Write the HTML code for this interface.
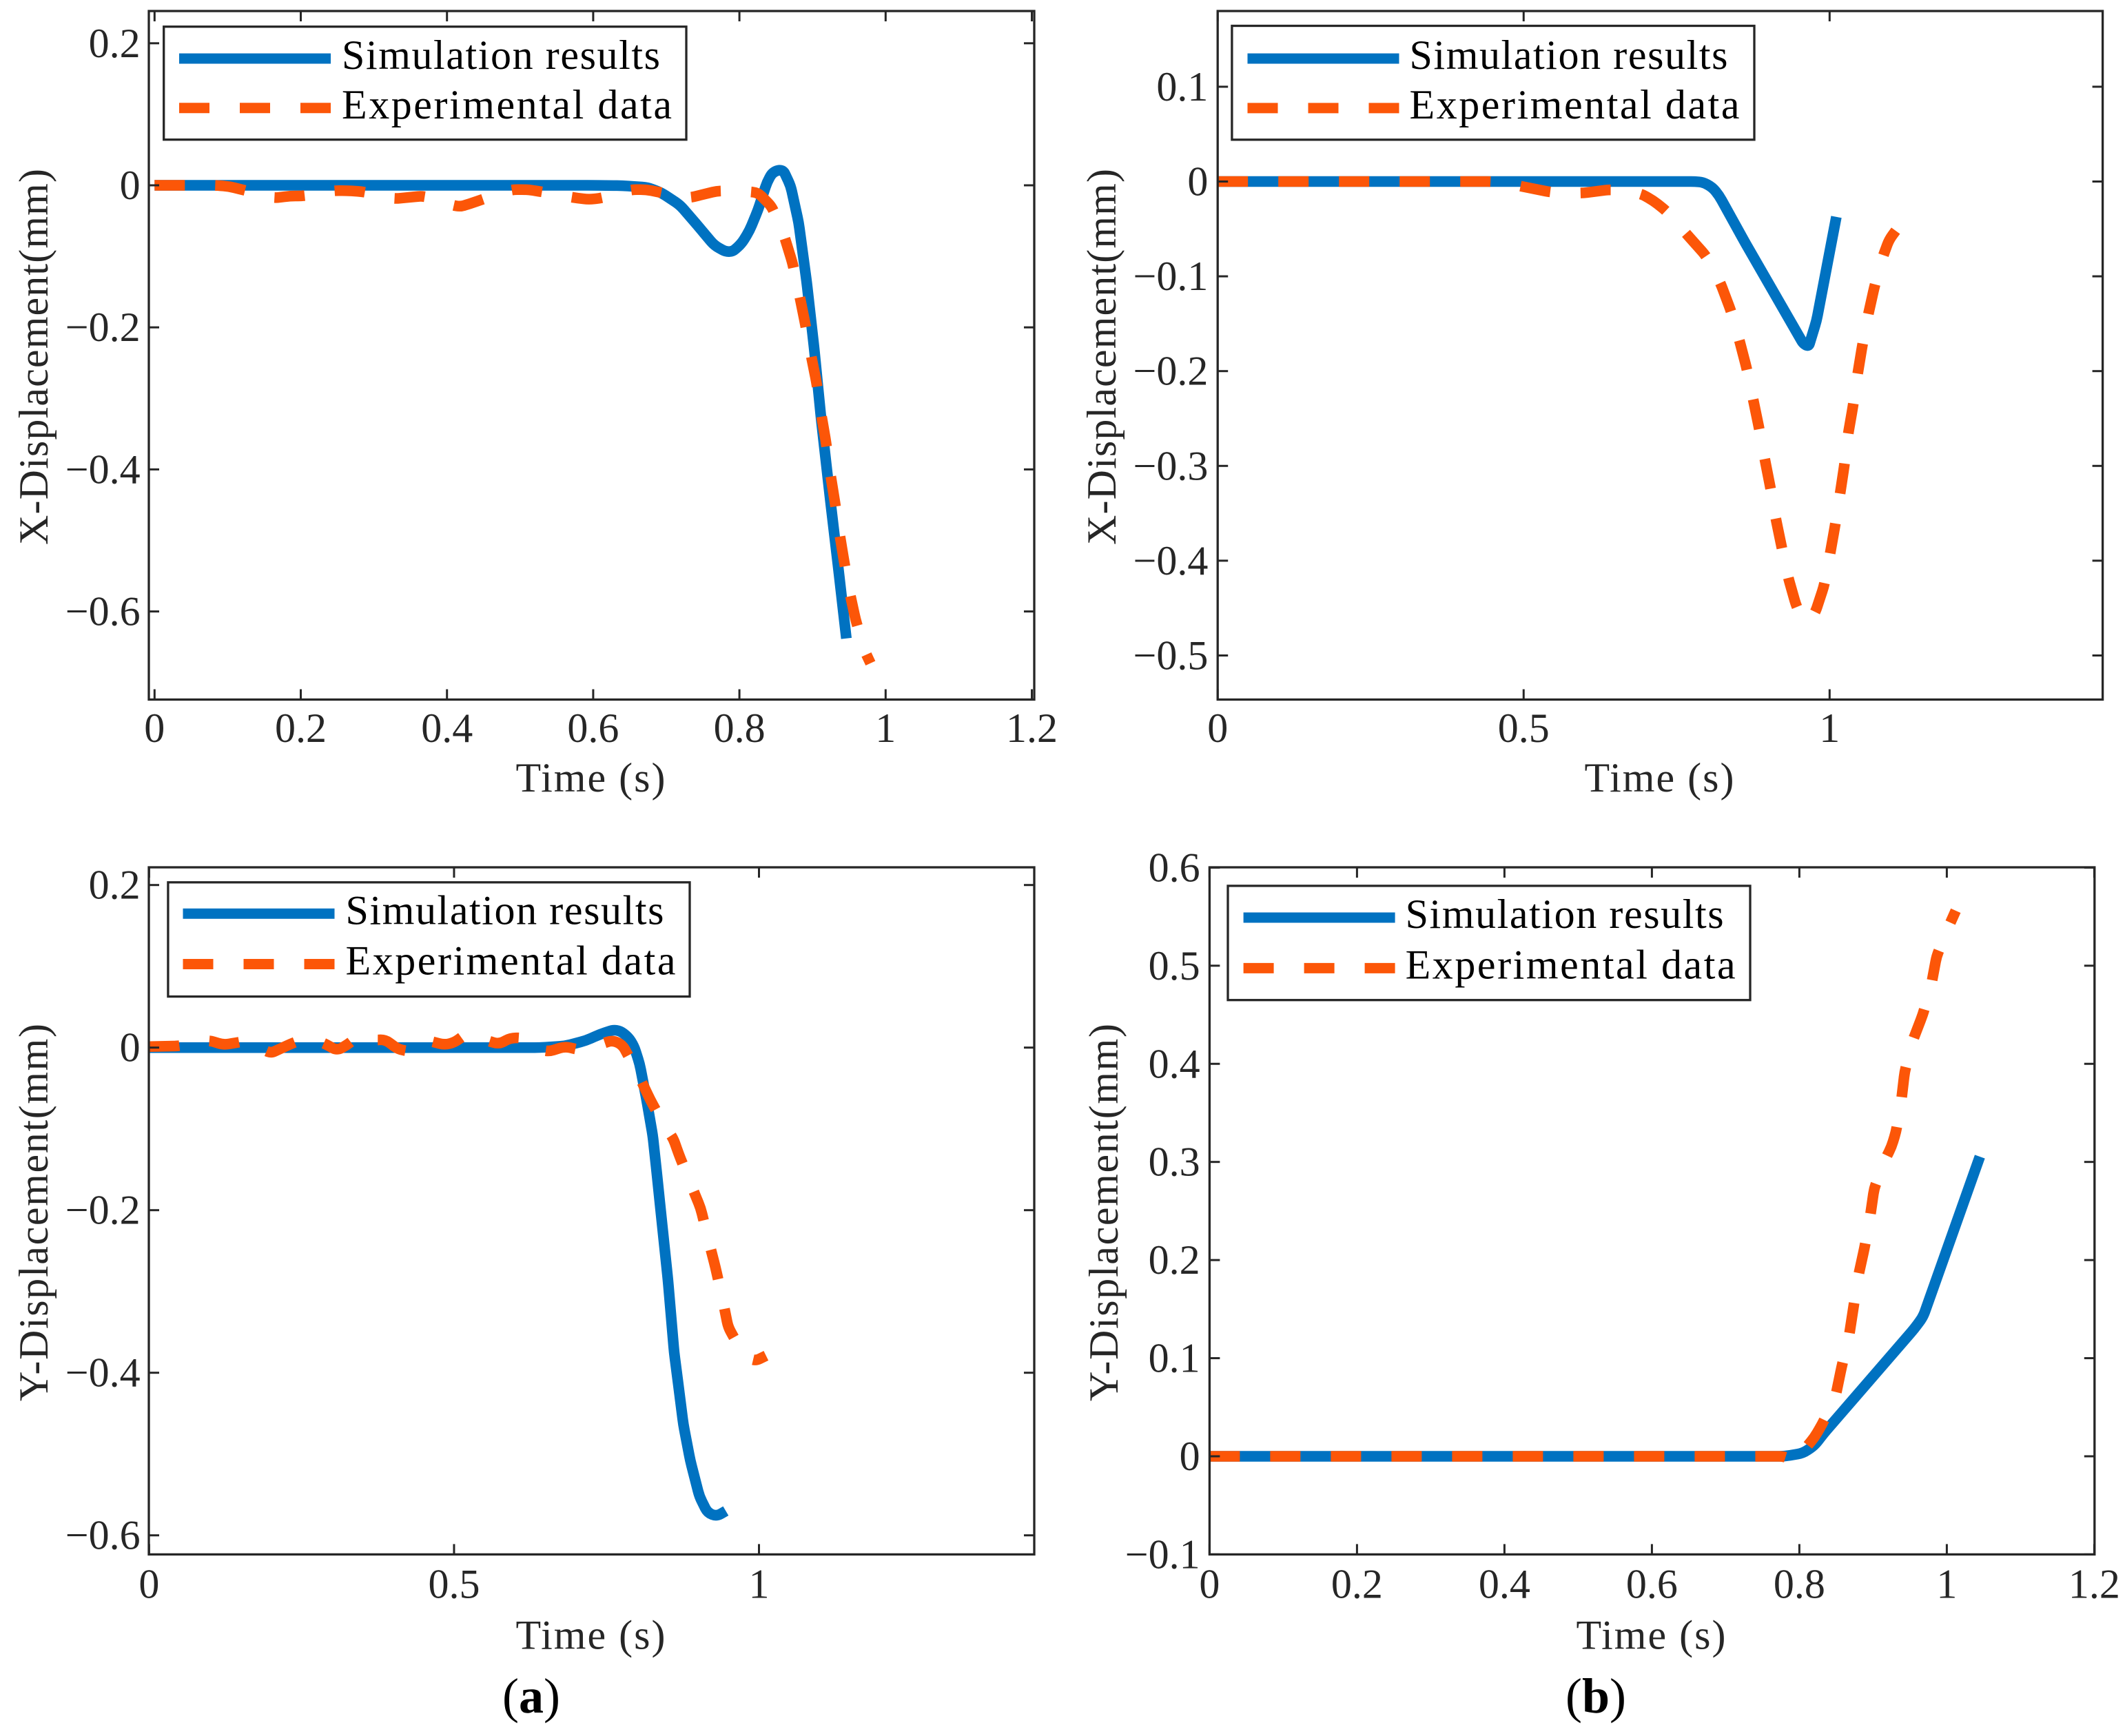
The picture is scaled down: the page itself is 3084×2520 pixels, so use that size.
<!DOCTYPE html>
<html lang="en">
<head>
<meta charset="utf-8">
<title>Simulation vs experimental displacement</title>
<style>
html,body{margin:0;padding:0;background:#fff;}
svg{display:block;}
text{font-family:"Liberation Serif",serif;fill:#262626;}
</style>
</head>
<body>
<svg id="figure" xmlns="http://www.w3.org/2000/svg" width="3084" height="2520" viewBox="0 0 3084 2520">
  <rect x="0" y="0" width="3084" height="2520" fill="#ffffff"/>
  <text x="771" y="2486" font-size="72" text-anchor="middle" style="fill:#000">(<tspan font-weight="bold">a</tspan>)</text>
  <text x="2316" y="2486" font-size="72" text-anchor="middle" style="fill:#000">(<tspan font-weight="bold">b</tspan>)</text>
</svg>
<script>
// Panel A (top left): X-displacement
const aXTicks = [0, 0.2, 0.4, 0.6, 0.8, 1, 1.2];
const aXTickLabels = ['0', '0.2', '0.4', '0.6', '0.8', '1', '1.2'];
const aYTicks = [0.2, 0, -0.2, -0.4, -0.6];
const aYTickLabels = ['0.2', '0', '\u22120.2', '\u22120.4', '\u22120.6'];
const aSimTime = [0, 0.3, 0.6, 0.64, 0.6746, 0.693, 0.7186, 0.7435, 0.7656, 0.781, 0.7906, 0.803, 0.814, 0.8253, 0.8378, 0.8457, 0.8593, 0.87, 0.881, 0.892, 0.9023, 0.9118, 0.9243, 0.9356, 0.9463];
const aSimDisp = [0, 0, 0, -0.0005, -0.003, -0.0103, -0.0277, -0.0574, -0.0845, -0.0934, -0.0934, -0.082, -0.0633, -0.035, 0.0045, 0.019, 0.0227, -0.0006, -0.0523, -0.136, -0.23, -0.329, -0.443, -0.5418, -0.638];
const aExpTime = [0, 0.0827, 0.1015, 0.1232, 0.1637, 0.1854, 0.2033, 0.2448, 0.2637, 0.2853, 0.3277, 0.3475, 0.3677, 0.4073, 0.4182, 0.4314, 0.4478, 0.4884, 0.51, 0.529, 0.5712, 0.5939, 0.6112, 0.6523, 0.6724, 0.694, 0.7311, 0.7704, 0.8118, 0.8253, 0.8442, 0.8615, 0.8725, 0.8819, 0.8897, 0.8977, 0.9054, 0.9118, 0.918, 0.9243, 0.9305, 0.9369, 0.9432, 0.951, 0.9588, 0.9714, 0.9793];
const aExpDisp = [0, 0, -0.0015, -0.007, -0.018, -0.015, -0.015, -0.0075, -0.0075, -0.009, -0.019, -0.017, -0.015, -0.028, -0.03, -0.026, -0.02, -0.006, -0.006, -0.009, -0.017, -0.02, -0.018, -0.006, -0.006, -0.0105, -0.0177, -0.0078, -0.0089, -0.0103, -0.03, -0.0722, -0.109, -0.1537, -0.1933, -0.2378, -0.2773, -0.3218, -0.3589, -0.4056, -0.4453, -0.4899, -0.5295, -0.5739, -0.611, -0.6556, -0.6729];

// Panel B (top right): X-displacement
const bXTicks = [0, 0.5, 1];
const bXTickLabels = ['0', '0.5', '1'];
const bYTicks = [0.1, 0, -0.1, -0.2, -0.3, -0.4, -0.5];
const bYTickLabels = ['0.1', '0', '\u22120.1', '\u22120.2', '\u22120.3', '\u22120.4', '\u22120.5'];
const bSimTime = [0, 0.4, 0.78, 0.7933, 0.8083, 0.8193, 0.8624, 0.957, 0.9658, 0.9786, 1.011];
const bSimDisp = [0, 0, 0, -0.0008, -0.006, -0.0147, -0.065, -0.1711, -0.174, -0.1469, -0.0373];
const bExpTime = [0, 0.4464, 0.46, 0.48, 0.496, 0.5447, 0.5951, 0.6426, 0.6921, 0.7115, 0.7329, 0.7653, 0.7976, 0.8214, 0.8386, 0.8526, 0.8645, 0.8752, 0.8847, 0.8938, 0.9033, 0.912, 0.9218, 0.9325, 0.9455, 0.955, 0.965, 0.9766, 0.9908, 1.0002, 1.0088, 1.0167, 1.024, 1.0302, 1.0381, 1.0455, 1.0533, 1.0627, 1.0735, 1.0873, 1.0972, 1.108];
const bExpDisp = [0, 0, -0.001, -0.003, -0.005, -0.0113, -0.0123, -0.0084, -0.0129, -0.02, -0.0309, -0.0547, -0.0781, -0.1068, -0.1363, -0.1676, -0.1972, -0.2303, -0.26, -0.2919, -0.3231, -0.3554, -0.386, -0.4181, -0.4476, -0.46, -0.465, -0.4546, -0.4267, -0.3948, -0.3634, -0.331, -0.2998, -0.2668, -0.2373, -0.2042, -0.1736, -0.1416, -0.1103, -0.0788, -0.0614, -0.0519];

// Panel C (bottom left): Y-displacement
const cXTicks = [0, 0.5, 1];
const cXTickLabels = ['0', '0.5', '1'];
const cYTicks = [0.2, 0, -0.2, -0.4, -0.6];
const cYTickLabels = ['0.2', '0', '\u22120.2', '\u22120.4', '\u22120.6'];
const cSimTime = [0, 0.3, 0.641, 0.682, 0.716, 0.7385, 0.7611, 0.7724, 0.7856, 0.795, 0.8044, 0.8158, 0.8259, 0.8323, 0.8384, 0.8508, 0.8609, 0.8685, 0.876, 0.8873, 0.9024, 0.9156, 0.9306, 0.9456];
const cSimDisp = [0, 0, 0, 0.002, 0.0086, 0.0161, 0.0218, 0.0205, 0.013, 0.0019, -0.0203, -0.0647, -0.1087, -0.1532, -0.1975, -0.2862, -0.3748, -0.4191, -0.4635, -0.5079, -0.5522, -0.5721, -0.5766, -0.57];
const cExpTime = [0, 0.049, 0.0977, 0.122, 0.1453, 0.165, 0.1896, 0.2005, 0.2329, 0.2586, 0.2843, 0.3086, 0.3275, 0.348, 0.3679, 0.387, 0.4086, 0.43, 0.4546, 0.4843, 0.5004, 0.522, 0.5465, 0.5736, 0.5924, 0.613, 0.6357, 0.6546, 0.6816, 0.7067, 0.7318, 0.76, 0.7762, 0.8018, 0.8214, 0.8459, 0.8591, 0.8685, 0.8873, 0.9043, 0.9174, 0.9287, 0.94, 0.9495, 0.9739, 0.9928, 1.0116];
const cExpDisp = [0.0012, 0.002, 0.0091, 0.0034, 0.0063, 0.009, -0.0036, -0.0065, 0.0048, 0.012, 0.0063, -0.0036, 0.0048, 0.0175, 0.0091, 0.0099, -0.0022, -0.005, 0.0091, 0.0034, 0.0063, 0.018, 0.0105, 0.0042, 0.0119, 0.012, -0.0008, -0.0051, 0.0014, -0.003, 0.002, 0.0091, 0.0034, -0.0326, -0.0637, -0.0977, -0.1111, -0.1311, -0.1664, -0.1975, -0.2375, -0.2706, -0.3084, -0.3438, -0.377, -0.3859, -0.379];

// Panel D (bottom right): Y-displacement
const dXTicks = [0, 0.2, 0.4, 0.6, 0.8, 1, 1.2];
const dXTickLabels = ['0', '0.2', '0.4', '0.6', '0.8', '1', '1.2'];
const dYTicks = [0.6, 0.5, 0.4, 0.3, 0.2, 0.1, 0, -0.1];
const dYTickLabels = ['0.6', '0.5', '0.4', '0.3', '0.2', '0.1', '0', '\u22120.1'];
const dSimTime = [0, 0.4, 0.78, 0.805, 0.8205, 0.833, 0.956, 0.9678, 1.0448];
const dSimDisp = [0, 0, 0, 0.0032, 0.0112, 0.0233, 0.1301, 0.1422, 0.3054];
const dExpTime = [0, 0.4, 0.78, 0.795, 0.8096, 0.8205, 0.8314, 0.8492, 0.8573, 0.8673, 0.8735, 0.8798, 0.8884, 0.8959, 0.9015, 0.9165, 0.9249, 0.9311, 0.9382, 0.9429, 0.9532, 0.9676, 0.9788, 0.9862, 1.0021, 1.0121];
const dExpDisp = [0, 0, 0, -0.006, 0.0095, 0.0193, 0.0334, 0.0616, 0.091, 0.1221, 0.1524, 0.1832, 0.2127, 0.2438, 0.2731, 0.3027, 0.3155, 0.3308, 0.3619, 0.3921, 0.4224, 0.4506, 0.48, 0.5097, 0.5392, 0.5561];

const legendLabels = ['Simulation results', 'Experimental data'];

const NS = 'http://www.w3.org/2000/svg';
const INK = '#262626';
const BLUE = '#0072C1';
const ORANGE = '#FC5608';
const figure = document.getElementById('figure');

function make(parent, tag, attrs, text) {
  const el = document.createElementNS(NS, tag);
  for (const k in attrs) el.setAttribute(k, attrs[k]);
  if (text !== undefined) el.textContent = text;
  parent.appendChild(el);
  return el;
}

function linearScale(d0, d1, r0, r1) {
  return function (v) { return r0 + (v - d0) * (r1 - r0) / (d1 - d0); };
}

// Polyline through the data with each interior vertex gently rounded.
function seriesPath(times, disps, sx, sy) {
  const pts = times.map(function (t, i) { return [sx(t), sy(disps[i])]; });
  let d = 'M' + pts[0][0].toFixed(2) + ' ' + pts[0][1].toFixed(2);
  for (let i = 1; i < pts.length - 1; i++) {
    const p = pts[i - 1], c = pts[i], n = pts[i + 1];
    const l1 = Math.hypot(c[0] - p[0], c[1] - p[1]);
    const l2 = Math.hypot(n[0] - c[0], n[1] - c[1]);
    const r = Math.min(8, l1 / 2, l2 / 2);
    const a = [c[0] + (p[0] - c[0]) * r / l1, c[1] + (p[1] - c[1]) * r / l1];
    const b = [c[0] + (n[0] - c[0]) * r / l2, c[1] + (n[1] - c[1]) * r / l2];
    d += ' L' + a[0].toFixed(2) + ' ' + a[1].toFixed(2);
    d += ' Q' + c[0].toFixed(2) + ' ' + c[1].toFixed(2) + ' ' + b[0].toFixed(2) + ' ' + b[1].toFixed(2);
  }
  const last = pts[pts.length - 1];
  d += ' L' + last[0].toFixed(2) + ' ' + last[1].toFixed(2);
  return d;
}

function drawPanel(p) {
  const g = make(figure, 'g', {});
  
  

  const sx = linearScale(p.xd[0], p.xd[1], p.xr[0], p.xr[1]);
  const sy = linearScale(p.yd[0], p.yd[1], p.yr[0], p.yr[1]);

  const sim = make(g, 'path', { d: seriesPath(p.simT, p.simV, sx, sy), fill: 'none', stroke: BLUE, 'stroke-width': 15.5, 'stroke-linejoin': 'round' });
  
  

  const exp = make(g, 'path', { d: seriesPath(p.expT, p.expV, sx, sy), fill: 'none', stroke: ORANGE, 'stroke-width': 15.5, 'stroke-dasharray': '44 44', 'stroke-linejoin': 'round' });
  
  

  const frame = make(g, 'rect', { x: p.left, y: p.top, width: p.right - p.left, height: p.bottom - p.top, fill: 'none', stroke: INK, 'stroke-width': 3.3 });
  
  

  p.xTicks.forEach(function (t, i) {
    const x = sx(t);
    const tb = make(g, 'line', { x1: x, x2: x, y1: p.bottom, y2: p.bottom - 15, stroke: INK, 'stroke-width': 3 });
    
    
    const tt = make(g, 'line', { x1: x, x2: x, y1: p.top, y2: p.top + 15, stroke: INK, 'stroke-width': 3 });
    
    
    const lab = make(g, 'text', { x: x, y: p.xLabelBase, 'font-size': 60, 'text-anchor': 'middle' }, p.xTickLabels[i]);
    
    
  });

  p.yTicks.forEach(function (v, i) {
    const y = sy(v);
    const tl = make(g, 'line', { x1: p.left, x2: p.left + 15, y1: y, y2: y, stroke: INK, 'stroke-width': 3 });
    
    
    const tr = make(g, 'line', { x1: p.right, x2: p.right - 15, y1: y, y2: y, stroke: INK, 'stroke-width': 3 });
    
    
    const lab = make(g, 'text', { x: p.yLabelRight, y: y + 20, 'font-size': 60, 'text-anchor': 'end' }, p.yTickLabels[i]);
    
    
  });

  const xt = make(g, 'text', { x: p.xTitleX, y: p.xTitleY, 'font-size': 60, 'text-anchor': 'middle', textLength: 217 }, 'Time (s)');
  
  

  const yt = make(g, 'text', { x: 0, y: 0, 'font-size': 60, 'text-anchor': 'middle', textLength: p.yTitleLen, transform: 'translate(' + p.yTitleX + ' ' + p.yTitleY + ') rotate(-90)' }, p.yTitle);
  
  

  const leg = make(g, 'g', {});
  
  

  const box = make(leg, 'rect', { x: p.leg.left, y: p.leg.top, width: p.leg.right - p.leg.left, height: p.leg.bottom - p.leg.top, fill: '#fff', stroke: INK, 'stroke-width': 3.3 });
  
  

  const l1 = make(leg, 'line', { x1: p.leg.lineX, x2: p.leg.lineX + 220, y1: p.leg.y1, y2: p.leg.y1, stroke: BLUE, 'stroke-width': 15 });
  
  

  const l2 = make(leg, 'line', { x1: p.leg.lineX, x2: p.leg.lineX + 220, y1: p.leg.y2, y2: p.leg.y2, stroke: ORANGE, 'stroke-width': 15, 'stroke-dasharray': '44 44' });
  
  

  const t1 = make(leg, 'text', { x: p.leg.textX, y: p.leg.y1 + 15, 'font-size': 60, textLength: 462, style: 'fill:#000' }, legendLabels[0]);
  
  

  const t2 = make(leg, 'text', { x: p.leg.textX, y: p.leg.y2 + 15, 'font-size': 60, textLength: 479, style: 'fill:#000' }, legendLabels[1]);
  
  
}

drawPanel({
  id: 'panel-a-x', left: 216, right: 1501, top: 16, bottom: 1015.5,
  xd: [0, 1.2], xr: [224.3, 1497.5], yd: [-0.6, 0.2], yr: [887.6, 62.8],
  xTicks: aXTicks, xTickLabels: aXTickLabels, yTicks: aYTicks, yTickLabels: aYTickLabels,
  simT: aSimTime, simV: aSimDisp, expT: aExpTime, expV: aExpDisp,
  xLabelBase: 1077, yLabelRight: 203.6, xTitleX: 857, xTitleY: 1149,
  yTitle: 'X-Displacement(mm)', yTitleX: 69, yTitleY: 518, yTitleLen: 546,
  leg: { left: 237.7, right: 996, top: 38.7, bottom: 202.7, lineX: 260, y1: 85, y2: 156.8, textX: 496 }
});
drawPanel({
  id: 'panel-a-y', left: 216, right: 1501, top: 1259, bottom: 2256.4,
  xd: [0, 1], xr: [216.4, 1101.5], yd: [-0.6, 0.2], yr: [2228.7, 1284.7],
  xTicks: cXTicks, xTickLabels: cXTickLabels, yTicks: cYTicks, yTickLabels: cYTickLabels,
  simT: cSimTime, simV: cSimDisp, expT: cExpTime, expV: cExpDisp,
  xLabelBase: 2319.5, yLabelRight: 203.6, xTitleX: 857, xTitleY: 2393.6,
  yTitle: 'Y-Displacement(mm)', yTitleX: 69, yTitleY: 1760, yTitleLen: 548,
  leg: { left: 243.9, right: 1001, top: 1280.8, bottom: 1446.6, lineX: 265.5, y1: 1326.3, y2: 1399.5, textX: 501.5 }
});
drawPanel({
  id: 'panel-b-x', left: 1767.2, right: 3051.6, top: 16, bottom: 1015.5,
  xd: [0, 1], xr: [1767.2, 2655.3], yd: [-0.5, 0.1], yr: [951.5, 125.9],
  xTicks: bXTicks, xTickLabels: bXTickLabels, yTicks: bYTicks, yTickLabels: bYTickLabels,
  simT: bSimTime, simV: bSimDisp, expT: bExpTime, expV: bExpDisp,
  xLabelBase: 1077, yLabelRight: 1753.4, xTitleX: 2408, xTitleY: 1149,
  yTitle: 'X-Displacement(mm)', yTitleX: 1619, yTitleY: 518, yTitleLen: 546,
  leg: { left: 1787.9, right: 2546, top: 37.5, bottom: 202.8, lineX: 1810.5, y1: 85, y2: 156.9, textX: 2045.5 }
});
drawPanel({
  id: 'panel-b-y', left: 1755.4, right: 3039.8, top: 1259, bottom: 2256.4,
  xd: [0, 1.2], xr: [1755.4, 3039.4], yd: [-0.1, 0.6], yr: [2256.4, 1259.4],
  xTicks: dXTicks, xTickLabels: dXTickLabels, yTicks: dYTicks, yTickLabels: dYTickLabels,
  simT: dSimTime, simV: dSimDisp, expT: dExpTime, expV: dExpDisp,
  xLabelBase: 2319.5, yLabelRight: 1741.6, xTitleX: 2396, xTitleY: 2393.6,
  yTitle: 'Y-Displacement(mm)', yTitleX: 1622, yTitleY: 1760, yTitleLen: 548,
  leg: { left: 1782, right: 2540, top: 1285.9, bottom: 1451.7, lineX: 1804.6, y1: 1332, y2: 1405.4, textX: 2039.6 }
});
</script>
</body>
</html>
